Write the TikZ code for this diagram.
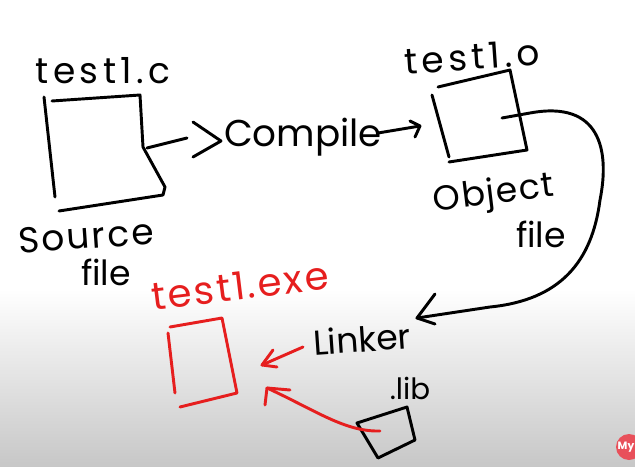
\documentclass[tikz,border=0pt]{standalone}
\usepackage{fontspec}
\setmainfont{Poppins}
\definecolor{inkred}{RGB}{230,30,30}
\definecolor{logored}{RGB}{232,80,90}
\begin{document}
\begin{tikzpicture}[x=0.75pt,y=-0.75pt,
  ink/.style={line width=2.2pt,line cap=round,line join=round},
  redink/.style={ink,draw=inkred},
  hand/.style={inner sep=0pt,font=\fontsize{26}{26}\selectfont},
  wide/.style={inner sep=0pt,font=\fontsize{27}{27}\selectfont\addfontfeature{LetterSpace=12}},
  redhand/.style={hand,text=inkred}]
% background
\useasboundingbox (0,0) rectangle (635,467);
\fill[white] (0,0) rectangle (635,290);
\shade[top color=white,bottom color=black!22] (0,289) rectangle (635,467);
% logo
\begin{scope}
\clip (0,0) rectangle (635,467);
\fill[logored] (629,447) circle (13);
\node[text=white,font=\bfseries\fontsize{8}{8}\selectfont,inner sep=0pt] (logo) at (626,447) {My};
\end{scope}

% texts
\node[wide] (tc) at (103,71) {test1.c};
\node[hand,rotate=4,font=\fontsize{27}{27}\selectfont\addfontfeature{LetterSpace=6}] (src) at (86,236) {Source};
\node[hand] (srcf) at (106,272) {file};
\node[hand,font=\fontsize{28}{28}\selectfont] (comp) at (303,137) {Compile};
\node[wide,rotate=4] (to) at (472,57) {test1.o};
\node[hand,rotate=7,font=\fontsize{26}{26}\selectfont\addfontfeature{LetterSpace=4}] (obj) at (494,195) {Object};
\node[hand] (objf) at (541,234) {file};
\node[redhand,rotate=7,font=\fontsize{29}{29}\selectfont\addfontfeature{LetterSpace=6}] (exe) at (240,286) {test1.exe};
\node[hand,rotate=4] (link) at (362,339) {Linker};
\node[hand,font=\fontsize{22}{22}\selectfont] (lib) at (410,388) {.lib};

% source box
\draw[ink] (44,97) -- (55,197);
\draw[ink] (52,101) -- (140,95) -- (143,147) -- (165,187) -- (163,195) -- (59,211);
% arrow to compile
\coordinate (srcR) at (147,148);
\coordinate (srcA) at (187,138);
\draw[ink] (srcR) -- (srcA);
\draw[ink] (193,122) -- (221,141) -- (193,157);

% object box
\draw[ink] (438,87) -- (510,70) -- (527,150) -- (449,162);
\draw[ink] (432,95) -- (449,157);
% compile -> object arrow
\coordinate (cA) at (378,133);
\coordinate (cB) at (420,126);
\draw[ink] (cA) -- (cB);
\draw[ink] (410,121) -- (420,126) -- (415,137);

% curve object -> linker
\coordinate (oR) at (502,118);
\coordinate (lT) at (417,318);
\draw[ink] (oR) -- (530,113) .. controls (600,100) and (610,150) .. (600,200)
  .. controls (592,262) and (560,300) .. (490,307) -- (lT);
\draw[ink] (435,294) -- (lT) -- (435,324);

% exe box (red)
\draw[redink] (168,333) -- (175,393);
\draw[redink] (170,327) -- (222,318) -- (237,393) -- (180,407);

% linker -> exe
\coordinate (lL) at (303,347);
\coordinate (eA) at (262,365);
\draw[redink] (lL) -- (eA);
\draw[redink] (273,350) -- (eA) -- (277,367);

% lib box
\draw[ink] (357,423) -- (407,407) -- (415,440) -- (378,458) -- cycle;
% lib -> exe
\coordinate (libA) at (380,431);
\coordinate (eB) at (267,388);
\draw[redink] (libA) .. controls (345,432) and (315,410) .. (eB);
\draw[redink] (265,405) -- (eB) -- (290,390);
\end{tikzpicture}
\end{document}
